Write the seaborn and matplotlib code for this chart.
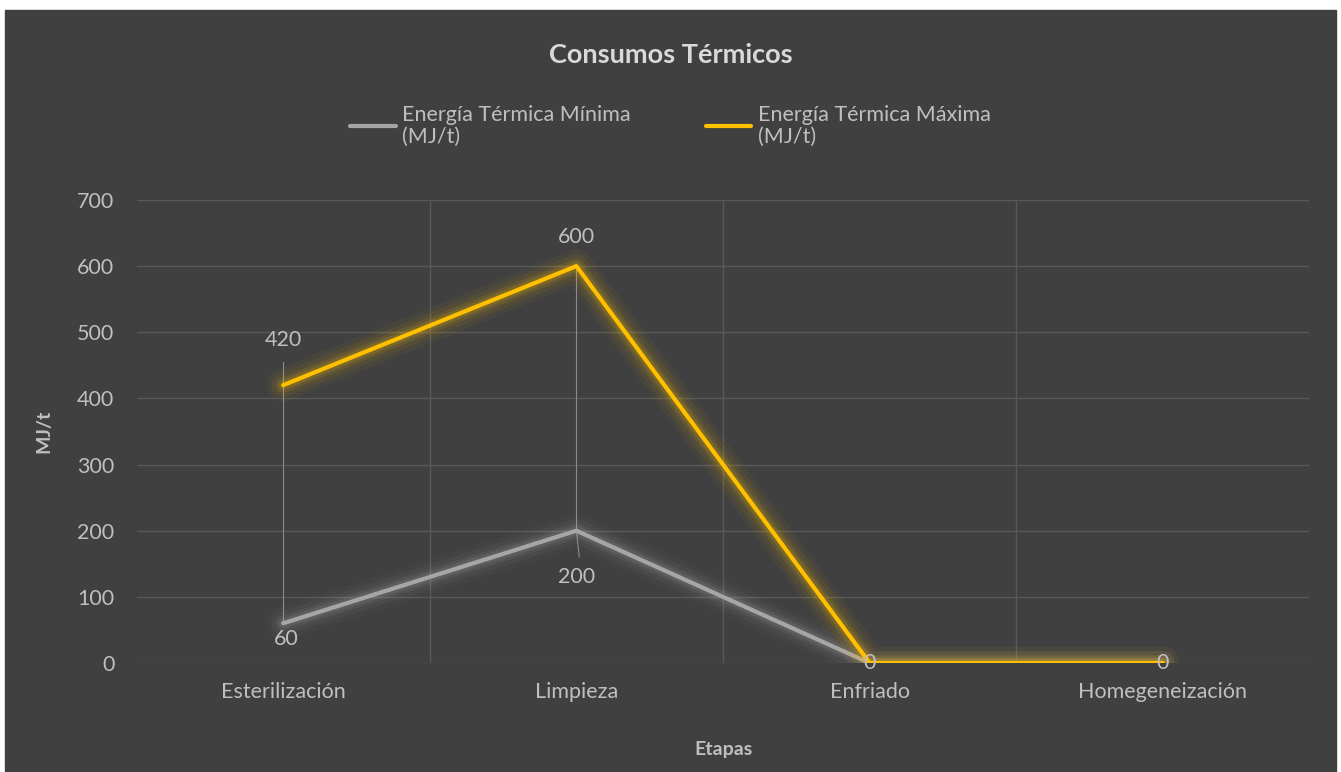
import pandas as pd
import matplotlib.pyplot as plt
import matplotlib.patheffects as pe
import seaborn as sns

# Datos del gráfico
etapas = ["Esterilización", "Limpieza", "Enfriado", "Homegeneización"]
energia_min = [60, 200, 0, 0]
energia_max = [420, 600, 0, 0]
serie_min = "Energía Térmica Mínima\n(MJ/t)"
serie_max = "Energía Térmica Máxima\n(MJ/t)"

df = pd.DataFrame({"Etapa": etapas * 2,
                   "Valor": energia_min + energia_max,
                   "Serie": [serie_min] * 4 + [serie_max] * 4})

fondo = "#404040"
texto = "#bfbfbf"
gris = "#a6a6a6"
oro = "#ffc000"

sns.set_theme(style="dark")
plt.rcParams["font.family"] = ["Lato", "DejaVu Sans"]

fig = plt.figure(figsize=(13.41, 7.72), dpi=100)
fig.patch.set_facecolor("white")
# marco oscuro del gráfico
fig.add_artist(plt.Rectangle((5 / 1341, 0), 1 - 10 / 1341, 1 - 10 / 772,
                             transform=fig.transFigure, color=fondo, zorder=0))
ax = fig.add_axes([0.1018, 0.1412, 0.8747, 0.5998])
ax.set_facecolor(fondo)

glow = lambda c: [pe.Stroke(linewidth=24, foreground=c, alpha=0.04),
                  pe.Stroke(linewidth=17, foreground=c, alpha=0.07),
                  pe.Stroke(linewidth=11, foreground=c, alpha=0.1),
                  pe.Stroke(linewidth=7, foreground=c, alpha=0.15),
                  pe.Normal()]

sns.lineplot(data=df, x="Etapa", y="Valor", hue="Serie", ax=ax,
             palette={serie_min: gris, serie_max: oro}, linewidth=3,
             sort=False, zorder=3)
for line, c in zip(ax.get_lines(), [gris, oro]):
    line.set_path_effects(glow(c))

# líneas guía de las etiquetas
ax.plot([0, 0], [energia_min[0], 455], color="#8c8c8c", lw=0.8, zorder=2)
ax.plot([1, 1], [energia_min[1], energia_max[1]], color="#8c8c8c", lw=0.8, zorder=2)
ax.plot([1, 1.01], [energia_min[1], 160], color="#8c8c8c", lw=0.8, zorder=2)

# etiquetas de datos
fs = 15.5
ax.text(0, energia_max[0] + 68, str(energia_max[0]), ha="center", va="center", color=texto, fontsize=fs)
ax.text(1, energia_max[1] + 44, str(energia_max[1]), ha="center", va="center", color=texto, fontsize=fs)
ax.text(0.01, energia_min[0] - 24, str(energia_min[0]), ha="center", va="center", color=texto, fontsize=fs)
ax.text(1, energia_min[1] - 70, str(energia_min[1]), ha="center", va="center", color=texto, fontsize=fs)
for i in [2, 3]:
    ax.text(i, energia_max[i], str(energia_max[i]), ha="center", va="center", color=texto, fontsize=fs)

ax.set_xlim(-0.5, 3.5)
ax.set_ylim(0, 700)
ax.set_yticks(range(0, 701, 100))
ax.set_xticks(range(4))
ax.set_xticks([0.5, 1.5, 2.5], minor=True)
ax.grid(True, axis="y", color="#595959", lw=1)
ax.grid(True, axis="x", which="minor", color="#595959", lw=1)
ax.grid(False, axis="x", which="major")
for s in ax.spines.values():
    s.set_visible(False)
ax.tick_params(colors=texto, labelsize=fs, length=0)
ax.tick_params(axis="x", pad=14)
ax.tick_params(axis="y", pad=16)
ax.set_xlabel("Etapas", color=texto, fontsize=14, fontweight="bold", labelpad=28)
ax.set_ylabel("MJ/t", color=texto, fontsize=14, fontweight="bold", labelpad=18)

fig.text(0.5, 1 - 55 / 772, "Consumos Térmicos", ha="center", va="center",
         color="#d9d9d9", fontsize=19.5, fontweight="bold")

handles, labels = ax.get_legend_handles_labels()
leg = fig.legend(handles, labels, loc="center", bbox_to_anchor=(0.5, 1 - 126 / 772),
                 ncol=2, frameon=False, fontsize=fs, labelcolor=texto,
                 handlelength=2.1, handletextpad=0.3, columnspacing=3.5)
for h in leg.legend_handles:
    h.set_path_effects([])
    h.set_linewidth(3)
for t in leg.get_texts():
    t.set_linespacing(1.15)
ax.get_legend().remove()

fig.savefig("out.png", dpi=100, facecolor=fig.get_facecolor())
